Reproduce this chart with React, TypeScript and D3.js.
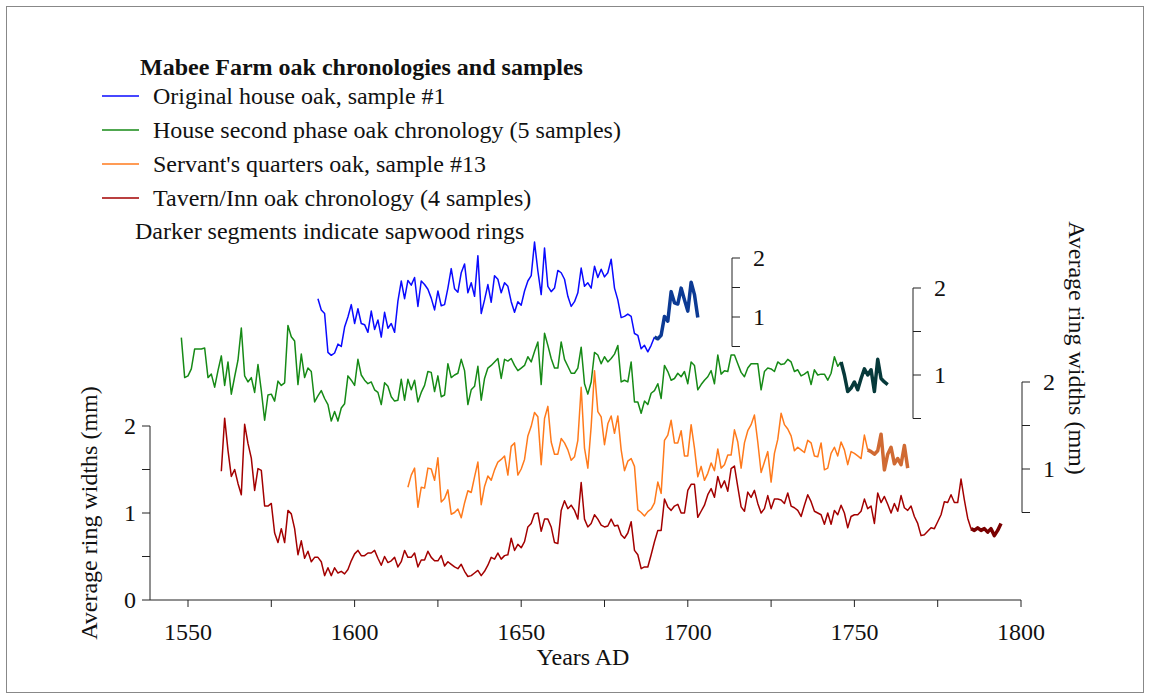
import React from 'react';
import * as d3 from 'd3';

const W = 1151;
const H = 698;
const FONT = '"Liberation Serif", "Times New Roman", serif';

// x axis
const xTicks = [1550, 1575, 1600, 1625, 1650, 1675, 1700, 1725, 1750, 1775, 1800];
const xLabels = [1550, 1600, 1650, 1700, 1750, 1800];

// small stacked axes (value ticks / labelled values)
const axisTicks = [0.5, 1, 1.5, 2];
const axisLabels = [1, 2];
const leftTicks = [0, 0.5, 1, 1.5, 2];
const leftLabels = [0, 1, 2];

// Original house oak, sample #1
const blueStart = 1589;
const blueSapwood = 1690;
const blueValues = [
  1.31, 1.12, 1.06, 0.40, 0.35, 0.39, 0.54, 0.50, 0.83, 1.00,
  1.21, 0.89, 1.14, 0.89, 0.87, 0.74, 1.10, 0.79, 0.95, 0.66,
  1.08, 0.81, 0.89, 0.74, 1.27, 1.61, 1.31, 1.62, 1.54, 1.67,
  1.18, 1.61, 1.55, 1.47, 1.32, 1.12, 1.44, 1.19, 1.21, 1.49,
  1.82, 1.48, 1.42, 1.75, 1.90, 1.41, 1.58, 1.35, 2.04, 1.06,
  1.29, 1.55, 1.25,
  1.70, 1.64, 1.41, 1.58, 1.52, 1.26, 1.08, 1.26, 1.20, 1.44,
  1.61, 1.70, 2.27, 1.78, 1.38, 2.17, 1.52, 1.43, 1.49, 1.79,
  1.75, 1.64, 1.35, 1.18, 1.26, 1.41, 1.83, 1.52, 1.58, 1.49,
  1.86, 1.67, 1.81, 1.68, 1.75, 1.98, 1.49, 1.29, 0.99, 1.01,
  1.05, 1.01, 0.72, 0.69, 0.46, 0.52, 0.41, 0.52, 0.66, 0.63,
  0.69, 1.01, 0.93, 1.43, 1.24, 1.22, 1.49, 1.29, 1.10, 1.59,
  1.38, 0.99,
];

// House second phase oak chronology (5 samples)
const greenStart = 1548;
const greenSapwood = 1746;
const greenValues = [
  1.43, 0.97, 0.99, 1.07, 1.30, 1.30, 1.30, 1.31, 0.97, 1.01,
  0.86, 1.05, 1.22, 0.88, 1.15, 0.78, 0.98, 1.17, 1.54, 0.99,
  0.92, 0.97, 0.80, 1.12, 0.82, 0.48, 0.77, 0.78, 0.70, 0.93,
  0.88, 0.91, 1.57, 1.44, 1.39, 0.89, 1.24, 0.97, 1.08, 1.04,
  0.69, 0.76, 0.82, 0.73, 0.66, 0.47, 0.58, 0.47, 0.62, 0.67,
  0.99, 0.94, 0.88, 1.18, 1.00, 0.94, 0.90, 0.92, 0.83, 0.80,
  0.66, 0.91, 0.87, 0.75, 0.70, 0.71, 0.95, 0.71, 0.95, 0.83,
  0.94, 0.69, 0.80, 0.88, 1.04, 1.03, 0.81, 0.99, 0.75, 0.77,
  1.13, 0.97, 1.00, 1.02, 1.18, 1.05, 0.66, 0.83, 0.87, 1.10,
  0.71, 0.96, 1.08, 1.11, 1.15, 1.19, 0.96, 1.18, 1.16, 1.19,
  1.11, 1.05, 1.08, 1.11, 1.21, 1.15, 1.27, 1.38, 0.89, 1.48,
  1.34, 1.19, 1.08, 1.08, 1.38, 1.18, 1.10, 1.02, 1.02, 1.08,
  1.32, 0.90, 0.78, 0.92, 1.26, 1.23, 1.13, 1.21, 1.15, 1.19,
  1.24, 1.34, 0.92, 0.94, 0.92, 1.15, 0.69, 0.69, 0.56, 0.70,
  0.66, 0.79, 0.82,
  0.90, 0.73, 1.11, 1.04, 0.94, 0.96, 1.02, 0.98, 1.04, 0.90,
  1.15, 1.11, 0.83, 0.89, 0.94, 0.98, 1.05, 0.90, 1.23, 1.01,
  1.05, 1.04, 1.23, 1.23, 1.13, 1.03, 0.98, 1.08, 1.13, 1.13,
  1.13, 0.83, 1.04, 1.08, 1.07, 1.04, 1.15, 1.12, 1.13, 1.18,
  1.15, 1.04, 1.06, 0.99, 1.01, 1.04, 0.89, 1.06, 1.00, 1.01,
  1.01, 0.94, 1.02, 1.21, 1.10, 1.15, 1.00, 0.81, 0.85, 0.92,
  0.83, 0.96, 1.07, 1.00, 1.06, 0.81, 1.18, 0.96, 0.92, 0.89,
];

// Servant's quarters oak, sample #13
const orangeStart = 1616;
const orangeSapwood = 1754;
const orangeValues = [
  0.79, 0.93, 1.01, 0.56, 0.79, 0.78, 1.01, 1.00, 0.87, 1.13,
  0.62, 0.66, 0.76, 0.48, 0.50, 0.54, 0.44, 0.61, 0.75, 0.73,
  0.91, 1.08, 0.59, 0.80, 0.92, 0.87, 0.99, 1.08, 1.11, 1.15,
  0.93, 1.26, 1.30, 0.93, 1.00, 1.11, 1.38, 1.49, 1.65, 1.60,
  1.05, 1.58, 1.72, 1.31, 1.17, 1.17, 1.35, 1.30, 1.22, 1.10,
  1.14, 1.33, 1.94, 1.24, 1.01, 1.49, 2.13, 1.66, 1.60, 1.28,
  1.52, 1.61, 1.41, 1.61, 1.22, 0.98, 1.09, 1.12, 1.03, 0.53,
  0.50, 0.46, 0.51, 0.54, 0.61, 0.85, 0.72,
  1.33, 1.39, 1.56, 1.30, 1.30, 1.44, 1.15, 1.15, 1.51, 1.24,
  0.91, 1.03, 0.87, 0.95, 1.07, 0.98, 1.23, 1.01, 1.05, 1.16,
  1.16, 1.45, 1.31, 1.01, 1.30, 1.44, 1.51, 1.62, 1.31, 0.96,
  1.08, 1.20, 0.85, 1.18, 1.34, 1.64, 1.51, 1.46, 1.38, 1.21,
  1.25, 1.22, 1.19, 1.33, 1.30, 1.15, 1.14, 1.30, 0.99, 1.01,
  1.18, 1.25, 1.15, 1.31, 1.22, 1.05, 1.20, 1.18, 1.15, 1.12,
  1.39, 1.22,
  1.20, 1.17, 1.21, 1.40, 0.99, 1.17, 1.25, 1.06, 1.12, 1.05,
  1.27, 1.01,
];

// Tavern/Inn oak chronology (4 samples)
const redStart = 1560;
const redSapwood = 1785;
const redValues = [
  1.48, 2.09, 1.72, 1.42, 1.50, 1.34, 1.21, 2.02, 1.80, 1.63,
  1.26, 1.51, 1.49, 1.08, 1.08, 1.11, 0.77, 0.66, 0.82, 0.66,
  1.03, 0.99, 0.82, 0.52, 0.68, 0.48, 0.56, 0.44, 0.49, 0.49,
  0.44, 0.28, 0.37, 0.28, 0.37, 0.31, 0.33, 0.30, 0.35, 0.45,
  0.53, 0.57, 0.51, 0.51, 0.54, 0.54, 0.57, 0.48, 0.40, 0.50,
  0.43, 0.45, 0.49, 0.38, 0.44, 0.57, 0.49, 0.49, 0.54, 0.38,
  0.46, 0.46, 0.56, 0.49, 0.45, 0.45, 0.51, 0.39, 0.44,
  0.41, 0.38, 0.36, 0.41, 0.33, 0.27, 0.28, 0.31, 0.34, 0.28,
  0.33, 0.40, 0.49, 0.47, 0.54, 0.47, 0.51, 0.52, 0.71, 0.57,
  0.64, 0.60, 0.67, 0.84, 0.88, 0.99, 1.00, 0.79, 0.93, 0.93,
  0.84, 0.66, 0.65, 1.03, 1.14, 1.05, 1.09, 1.03, 0.93, 1.35,
  0.93, 0.84, 0.88, 0.98, 0.93, 0.86, 0.84, 0.85, 0.93, 0.85,
  0.86, 0.75, 0.71, 0.77, 0.90, 0.57, 0.52, 0.36, 0.38, 0.38,
  0.52, 0.67, 0.80, 0.80, 1.16, 1.07, 1.03, 1.08, 1.10, 1.00,
  1.00, 1.26, 1.33, 1.33,
  0.95, 1.02, 1.09, 1.21, 1.28, 1.18, 1.42, 1.29, 1.37, 1.25,
  1.51, 1.54, 1.30, 1.07, 1.02, 1.24, 1.18, 1.26, 1.11, 1.00,
  1.05, 1.20, 1.05, 1.16, 1.16, 1.15, 1.11, 1.23, 1.08, 1.06,
  1.03, 0.96, 1.09, 1.21, 1.13, 1.02, 1.00, 0.98, 0.87, 1.00,
  0.87, 1.03, 0.98, 1.09, 1.00, 0.83, 0.96, 0.98, 0.98, 1.02,
  1.16, 1.05, 1.08, 0.88, 1.23, 1.12, 1.19, 1.10, 1.00, 1.11,
  1.02, 1.20, 1.06, 1.03, 1.08, 0.96, 0.88, 0.74, 0.75, 0.79,
  0.83, 0.82, 0.90, 0.98, 1.13, 1.12, 1.21, 1.12, 1.12, 1.39,
  1.15, 0.94, 0.82, 0.80, 0.83, 0.80, 0.82, 0.78, 0.82, 0.74,
  0.80, 0.88,
];

const legendLabels = [
  'Original house oak, sample #1',
  'House second phase oak chronology (5 samples)',
  "Servant's quarters oak, sample #13",
  'Tavern/Inn oak chronology (4 samples)',
];

const x = d3.scaleLinear().domain([1550, 1800]).range([188, 1021]);
const yRed = d3.scaleLinear().domain([0, 2]).range([600, 426]);
const yBlue = d3.scaleLinear().domain([1, 2]).range([317, 258]);
const yGreen = d3.scaleLinear().domain([1, 2]).range([375, 288]);
const yOrange = d3.scaleLinear().domain([1, 2]).range([469, 382]);

const series = [
  { start: blueStart, sap: blueSapwood, values: blueValues, y: yBlue, color: '#0a0aff', dark: '#0c3a94', axisX: 732 },
  { start: greenStart, sap: greenSapwood, values: greenValues, y: yGreen, color: '#168a16', dark: '#06393a', axisX: 913 },
  { start: orangeStart, sap: orangeSapwood, values: orangeValues, y: yOrange, color: '#ff7a1c', dark: '#d06a33', axisX: 1022 },
  { start: redStart, sap: redSapwood, values: redValues, y: yRed, color: '#a30000', dark: '#7a0000', axisX: 0 },
];

function pathFor(values: number[], start: number, y: d3.ScaleLinear<number, number>) {
  const line = d3
    .line<number>()
    .x((_, i) => x(start + i))
    .y((d) => y(d));
  return line(values) || '';
}

const SmallAxis: React.FC<{ ax: number; y: d3.ScaleLinear<number, number> }> = ({ ax, y }) => (
  <g>
    <line x1={ax} x2={ax} y1={y(0.5)} y2={y(2)} stroke="#222" strokeWidth={1} />
    {axisTicks.map((t) => (
      <line key={t} x1={ax} x2={ax + 8} y1={y(t)} y2={y(t)} stroke="#222" strokeWidth={1} />
    ))}
    {axisLabels.map((t) => (
      <text key={t} x={ax + 21} y={y(t)} dy="0.35em" fontSize={24} fill="#111">
        {t}
      </text>
    ))}
  </g>
);

export default function App() {
  return (
    <svg
      width={W}
      height={H}
      style={{ position: 'absolute', left: 0, top: 0, background: '#fff' }}
      fontFamily={FONT}
    >
      <rect x={6.5} y={6.5} width={1137} height={686} fill="none" stroke="#888" strokeWidth={1} />

      {/* legend */}
      <text x={140} y={75} fontSize={24} fontWeight="bold" fill="#111">
        Mabee Farm oak chronologies and samples
      </text>
      {legendLabels.map((lab, i) => {
        const ly = 96 + i * 34;
        return (
          <g key={lab}>
            <line x1={102} x2={139} y1={ly} y2={ly} stroke={series[i].color} strokeWidth={1.5} />
            <text x={153} y={ly + 8} fontSize={24} fill="#111">
              {lab}
            </text>
          </g>
        );
      })}
      <text x={135} y={239} fontSize={24} fill="#111">
        Darker segments indicate sapwood rings
      </text>

      {/* left axis */}
      <line x1={150} x2={150} y1={yRed(0)} y2={yRed(2)} stroke="#222" />
      {leftTicks.map((t) => (
        <line key={t} x1={142} x2={150} y1={yRed(t)} y2={yRed(t)} stroke="#222" />
      ))}
      {leftLabels.map((t) => (
        <text key={t} x={136} y={yRed(t)} dy="0.35em" textAnchor="end" fontSize={24} fill="#111">
          {t}
        </text>
      ))}
      <text
        transform={`translate(97,${513}) rotate(-90)`}
        textAnchor="middle"
        fontSize={24}
        fill="#111"
      >
        Average ring widths (mm)
      </text>

      {/* x axis */}
      <line x1={150} x2={x(1800)} y1={600} y2={600} stroke="#222" />
      {xTicks.map((t) => (
        <line key={t} x1={x(t)} x2={x(t)} y1={600} y2={607} stroke="#222" />
      ))}
      {xLabels.map((t) => (
        <text key={t} x={x(t)} y={640} textAnchor="middle" fontSize={24} fill="#111">
          {t}
        </text>
      ))}
      <text x={583} y={665} textAnchor="middle" fontSize={24} fill="#111">
        Years AD
      </text>

      {/* right stacked axes */}
      <SmallAxis ax={732} y={yBlue} />
      <SmallAxis ax={913} y={yGreen} />
      <SmallAxis ax={1022} y={yOrange} />
      <text
        transform={`translate(1069,${348}) rotate(90)`}
        textAnchor="middle"
        fontSize={24}
        fill="#111"
      >
        Average ring widths (mm)
      </text>

      {/* series */}
      {series.map((s, i) => {
        const cut = s.sap - s.start;
        const thin = s.values.slice(0, cut + 1);
        const thick = s.values.slice(cut);
        return (
          <g key={i} fill="none" strokeLinejoin="round">
            <path d={pathFor(thin, s.start, s.y)} stroke={s.color} strokeWidth={1.5} />
            <path d={pathFor(thick, s.sap, s.y)} stroke={s.dark} strokeWidth={3.5} />
          </g>
        );
      })}
    </svg>
  );
}
